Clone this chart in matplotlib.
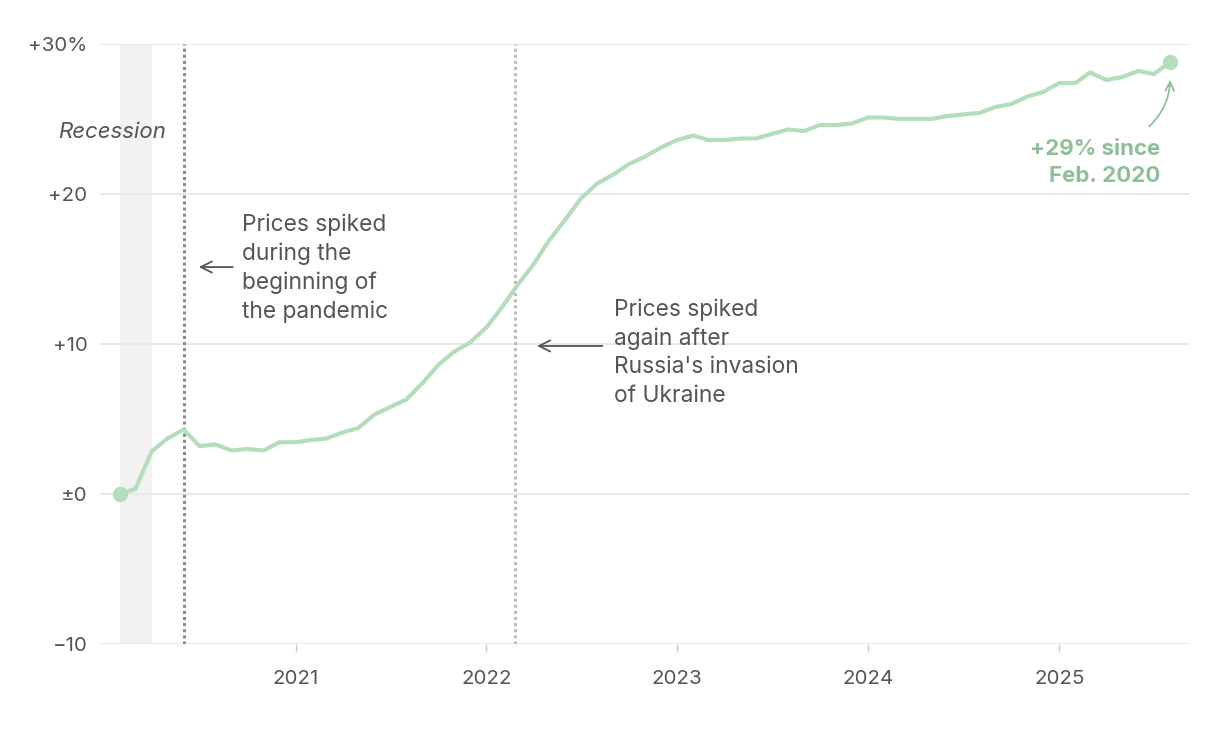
import pandas as pd
import matplotlib.pyplot as plt
import matplotlib.dates as mdates

plt.rcParams['font.family'] = ['Inter', 'DejaVu Sans']

# cumulative price change since Feb. 2020, percent, monthly
values = [
    0.0, 0.35, 2.85, 3.7, 4.3, 3.2, 3.3, 2.9, 3.0, 2.9, 3.45,
    3.45, 3.6, 3.7, 4.1, 4.4, 5.3, 5.8, 6.3, 7.4, 8.6, 9.5, 10.1,
    11.1, 12.5, 13.9, 15.3, 16.9, 18.3, 19.7, 20.7, 21.3, 22.0, 22.5, 23.1,
    23.6, 23.9, 23.6, 23.6, 23.7, 23.7, 24.0, 24.3, 24.2, 24.6, 24.6, 24.7,
    25.1, 25.1, 25.0, 25.0, 25.0, 25.2, 25.3, 25.4, 25.8, 26.0, 26.5, 26.8,
    27.4, 27.4, 28.1, 27.6, 27.8, 28.2, 28.0, 28.8,
]
dates = pd.date_range("2020-02-01", periods=len(values), freq="MS")

recession = ("2020-02-01", "2020-04-01")
pandemic_line = "2020-06-01"
invasion_line = "2022-02-24"
year_ticks = ["2021", "2022", "2023", "2024", "2025"]
y_ticks = [-10, 0, 10, 20, 30]
y_labels = ["\u221210", "\u00b10", "+10", "+20", "+30%"]

GREEN = "#b4ddbb"
DARK_GREEN = "#8fbf99"
TEXT = "#555555"

fig = plt.figure(figsize=(12.2, 7.3), dpi=100)
ax = fig.add_axes([100 / 1220, 86 / 730, 1090 / 1220, 600 / 730])

ax.axvspan(pd.Timestamp(recession[0]), pd.Timestamp(recession[1]), color="#f2f2f2", lw=0, zorder=0)
ax.axvline(pd.Timestamp(pandemic_line), color="#8a8a8a", lw=2.2, ls=(0, (1, 1)), zorder=1)
ax.axvline(pd.Timestamp(invasion_line), color="#bdbdbd", lw=2.2, ls=(0, (1, 1)), zorder=1)

ax.plot(dates, values, color=GREEN, lw=3, zorder=3, solid_joinstyle="round")
ax.plot([dates[0], dates[-1]], [values[0], values[-1]], "o", color=GREEN, ms=10, zorder=4, clip_on=False)

ax.set_ylim(-10, 30)
ax.set_xlim(pd.Timestamp("2019-12-24"), pd.Timestamp("2025-09-08"))
ax.set_yticks(y_ticks)
ax.set_yticklabels(y_labels)
ax.set_xticks([pd.Timestamp(y + "-01-01") for y in year_ticks])
ax.xaxis.set_major_formatter(mdates.DateFormatter("%Y"))

ax.grid(axis="y", color="#e9e9e9", lw=1.5, zorder=0)
ax.set_axisbelow(True)
for s in ax.spines.values():
    s.set_visible(False)
ax.tick_params(axis="y", length=0, pad=9, labelsize=14.8, labelcolor=TEXT)
ax.tick_params(axis="x", length=6, width=1, color="#cccccc", pad=13, labelsize=14.8, labelcolor=TEXT)

ax.text(pd.Timestamp("2020-01-16"), 24.1, "Recession", style="italic", fontsize=16,
        color=TEXT, ha="center", va="center")

arrow_kw = dict(arrowstyle="->", color=TEXT, lw=1.3, mutation_scale=20, shrinkA=0, shrinkB=0)

ax.text(pd.Timestamp("2020-09-20"), 18.7, "Prices spiked\nduring the\nbeginning of\nthe pandemic",
        fontsize=16.4, color=TEXT, ha="left", va="top", linespacing=1.38)
ax.annotate("", xy=(pd.Timestamp("2020-06-30"), 15.13), xytext=(pd.Timestamp("2020-09-03"), 15.13),
            arrowprops=arrow_kw)

ax.text(pd.Timestamp("2022-09-02"), 13.05, "Prices spiked\nagain after\nRussia's invasion\nof Ukraine",
        fontsize=16.4, color=TEXT, ha="left", va="top", linespacing=1.38)
ax.annotate("", xy=(pd.Timestamp("2022-04-08"), 9.87), xytext=(pd.Timestamp("2022-08-11"), 9.87),
            arrowprops=arrow_kw)

ax.text(pd.Timestamp("2025-07-14"), 23.7, "+29% since\nFeb. 2020", fontsize=16, fontweight="bold",
        color=DARK_GREEN, ha="right", va="top", linespacing=1.45)
ax.annotate("", xy=(pd.Timestamp("2025-08-01"), 27.6), xytext=(pd.Timestamp("2025-06-22"), 24.5),
            arrowprops=dict(arrowstyle="->", color=DARK_GREEN, lw=1.3, mutation_scale=16,
                            shrinkA=0, shrinkB=0, connectionstyle="arc3,rad=0.2"))

fig.savefig("out.png", dpi=100)
